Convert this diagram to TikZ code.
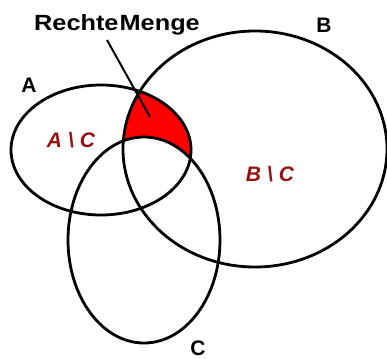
\documentclass[tikz,border=0pt]{standalone}
\usepackage{fontspec}
\setmainfont{Liberation Sans}
\definecolor{setred}{HTML}{FF0000}
\definecolor{lblred}{HTML}{951212}
\begin{document}
\begin{tikzpicture}[x=1pt,y=-1pt,
  setline/.style={line width=2.8pt,black},
  setlabel/.style={font=\bfseries\fontsize{21}{24}\selectfont,inner sep=0pt},
  difflabel/.style={font=\bfseries\itshape\fontsize{21}{24}\selectfont,text=lblred,inner sep=0pt}]
\useasboundingbox (0,0) rectangle (387,358);
% red region: A cap B minus C
\begin{scope}
  \clip (101,150) ellipse [x radius=90,y radius=65];
  \clip (255,149) ellipse [x radius=132,y radius=118];
  \fill[setred] (0,0) rectangle (387,358);
  \fill[white] (144,240) ellipse [x radius=76,y radius=103];
\end{scope}
\draw[setline] (101,150) ellipse [x radius=90,y radius=65];
\draw[setline] (255,149) ellipse [x radius=132,y radius=118];
\draw[setline] (144,240) ellipse [x radius=76,y radius=103];
\node[setlabel,font=\bfseries\fontsize{22}{26}\selectfont] (title) at (117,25) {\scalebox{1.15}[1]{Rechte\hspace{1pt}Menge}};
\node[setlabel] (la) at (29,85) {A};
\node[setlabel] (lb) at (324,25) {B};
\node[setlabel] (lc) at (198,348) {C};
\node[difflabel] (ac) at (71,140) {A\hspace{6pt}\textbackslash\hspace{6pt}C};
\node[difflabel] (bc) at (270,174) {B\hspace{6pt}\textbackslash\hspace{6pt}C};
\coordinate (tip) at (150,117);
\draw[line width=2pt] (107,40) -- (tip);
\end{tikzpicture}
\end{document}
